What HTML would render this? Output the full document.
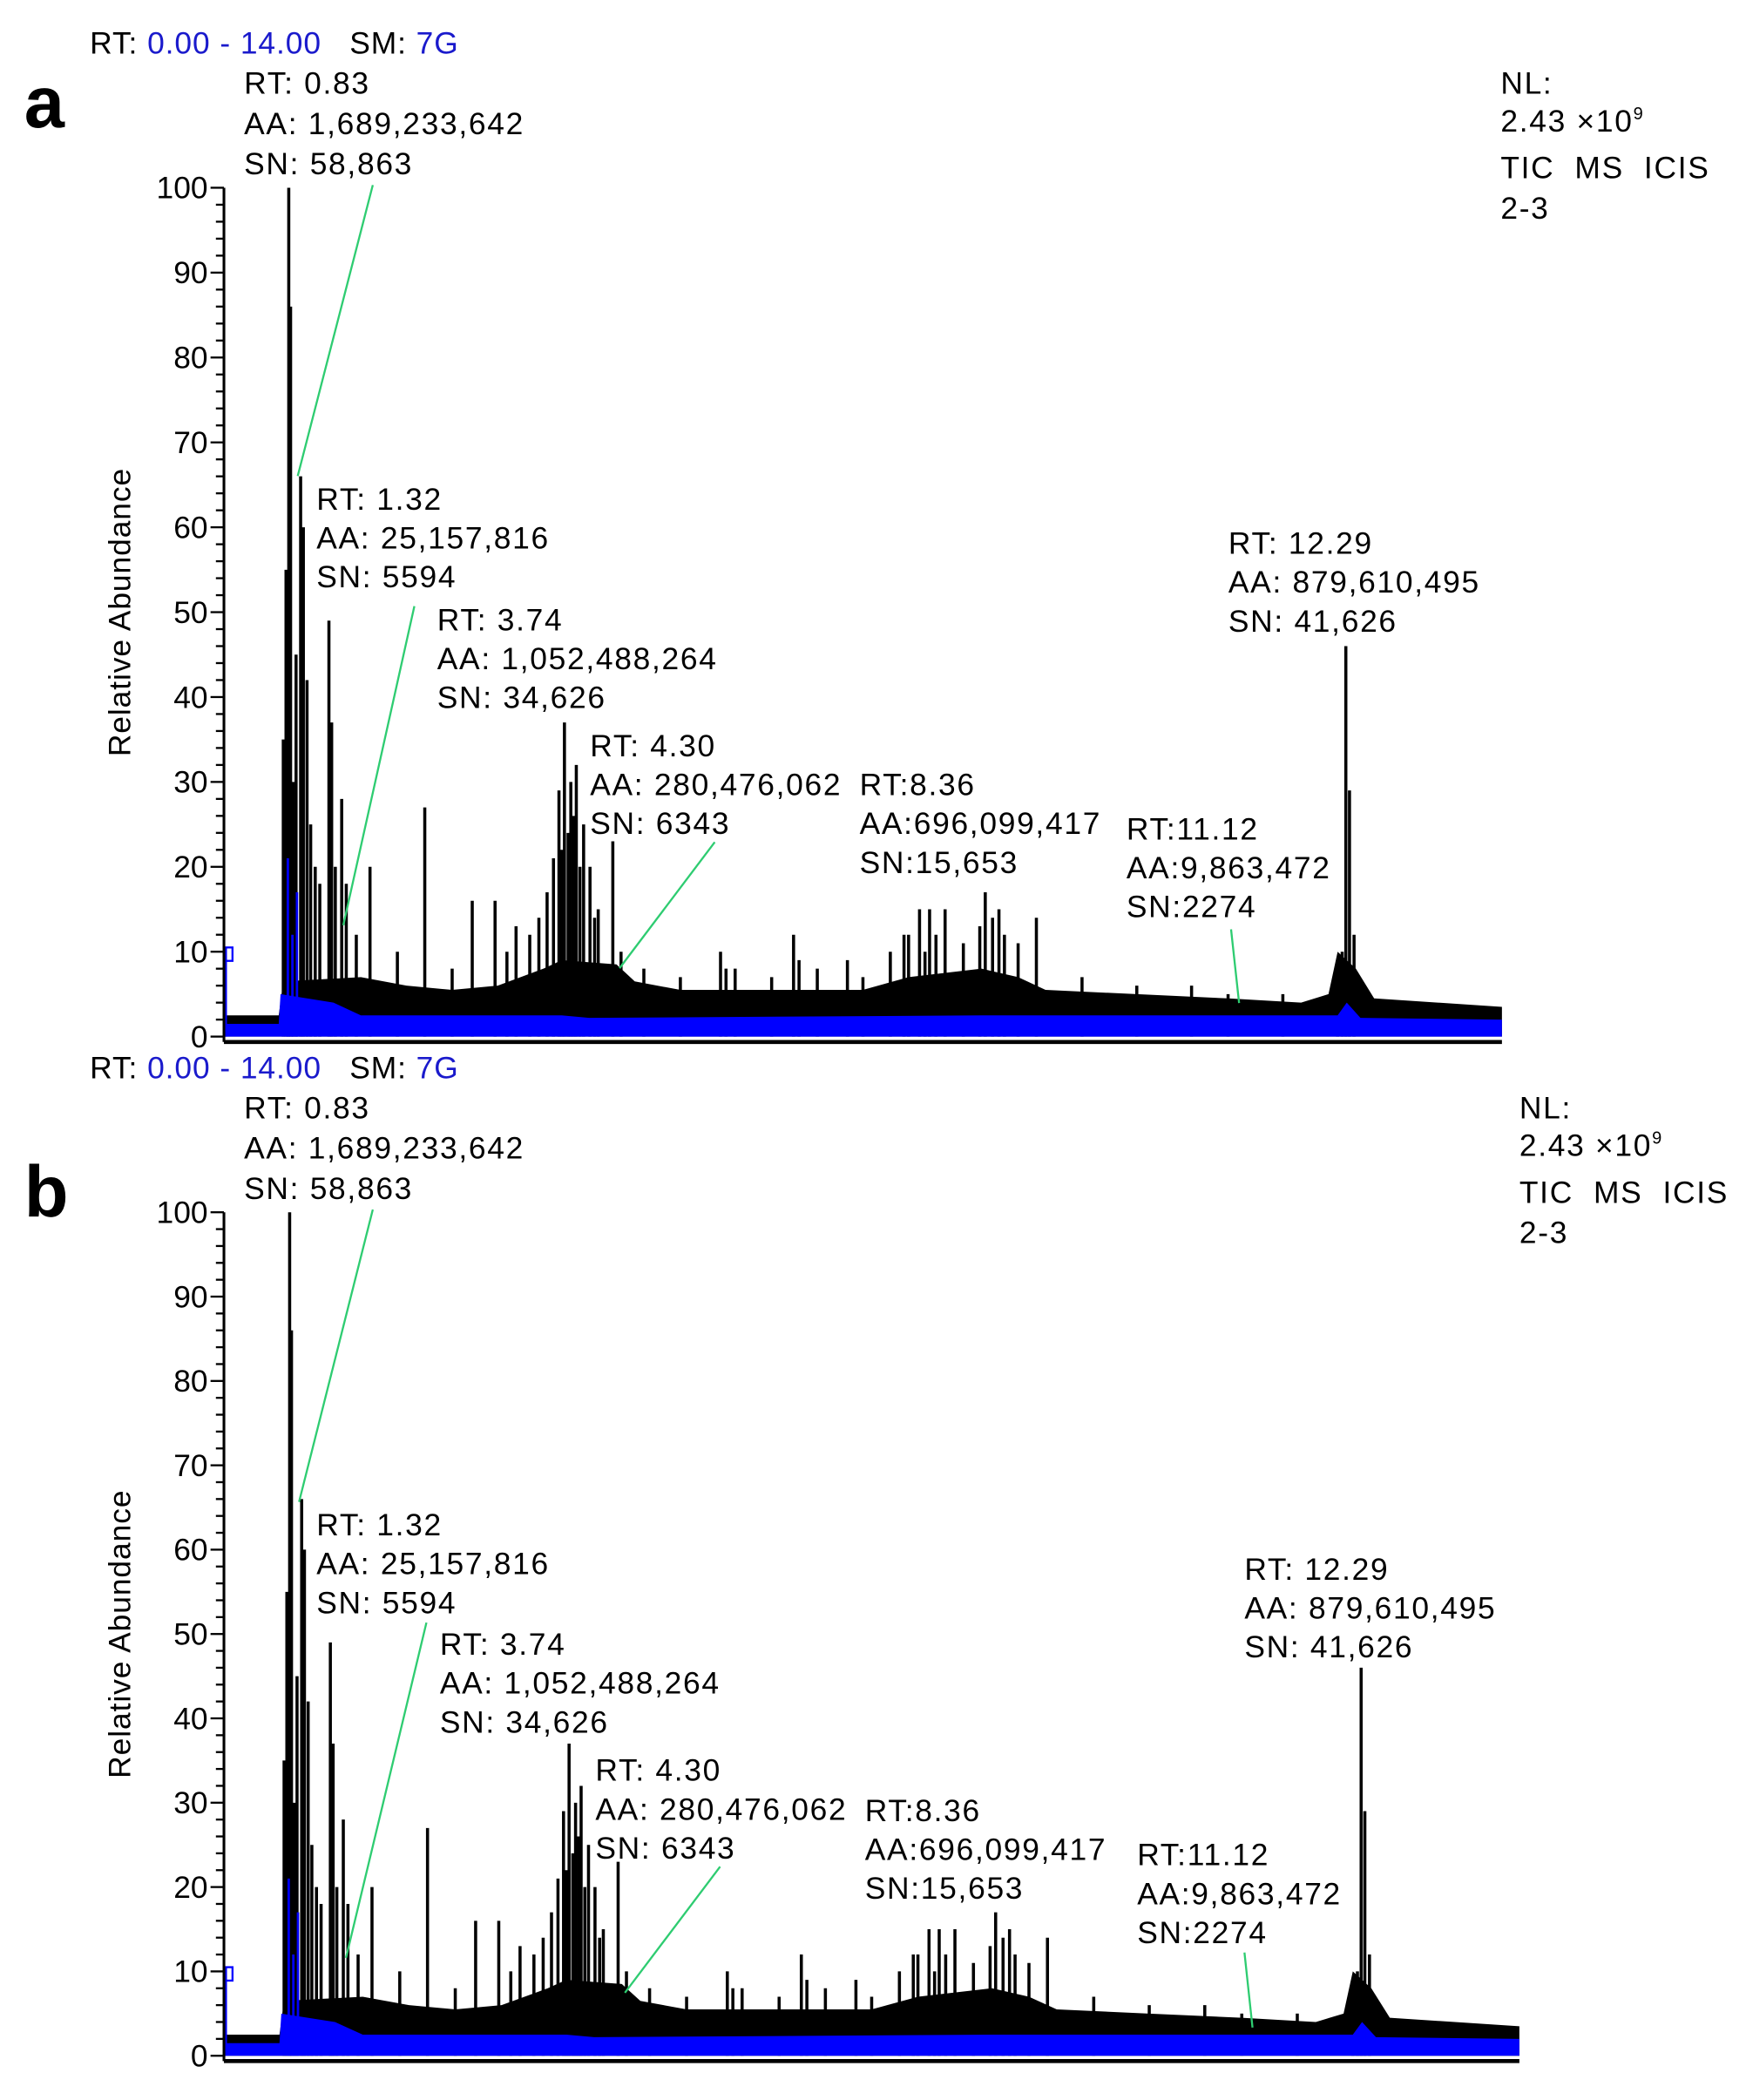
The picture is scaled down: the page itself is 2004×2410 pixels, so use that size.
<!DOCTYPE html>
<html><head><meta charset="utf-8"><style>
html,body{margin:0;padding:0;background:#fff}
svg{display:block}
text{font-family:"Liberation Sans",sans-serif}
</style></head><body>
<svg id="fig" width="2004" height="2410" viewBox="0 0 1302 1566" preserveAspectRatio="none" xmlns="http://www.w3.org/2000/svg"></svg>
<script>
const peakRT=[0.65,0.68,0.71,0.73,0.76,0.79,0.84,0.87,0.91,0.95,1.0,1.05,1.15,1.18,1.22,1.29,1.34,1.45,1.60,1.9,2.20,2.5,2.72,2.97,3.1,3.20,3.35,3.45,3.54,3.61,3.67,3.70,3.73,3.77,3.80,3.83,3.86,3.90,3.94,4.01,4.06,4.10,4.26,4.35,4.6,5.0,5.44,5.5,5.6,6.0,6.24,6.3,6.5,6.83,7.0,7.3,7.45,7.5,7.62,7.68,7.73,7.80,7.90,8.1,8.28,8.34,8.42,8.49,8.55,8.7,8.90,9.4,10.0,10.6,11.0,11.6,12.20,12.25,12.29,12.33,12.38];
const peakHeight=[35,55,100,86,30,45,66,60,42,25,20,18,49,37,20,28,18,12,20,10,27,8,16,16,10,13,12,14,17,21,29,22,37,24,30,26,32,20,25,20,14,15,23,10,8,7,10,8,8,7,12,9,8,9,7,10,12,12,15,10,15,12,15,11,13,17,14,15,12,11,14,7,6,6,5,5,8,10,46,29,12];
const baseRT=[0,0.6,0.65,1.5,2,2.5,3,3.5,3.7,4.3,4.5,5,6,7,7.5,8.3,8.7,9,10,11,11.8,12.1,12.2,12.4,12.6,14];
const baseLevel=[2.5,2.5,6.5,7,6,5.5,6,8,9,8.5,6.5,5.5,5.5,5.5,7,8,7,5.5,5,4.5,4,5,10,8,4.5,3.5];
const blueRT=[0,0.6,0.62,1.2,1.5,3.7,4,8.3,12.2,12.3,12.45,14];
const blueLevel=[1.5,1.5,5,4,2.5,2.5,2.2,2.5,2.5,4,2.2,2];
const blueSpikeRT=[0.02,0.7,0.75,0.8];
const blueSpikeHeight=[10.5,21,12,17];
const yTicks=[0,10,20,30,40,50,60,70,80,90,100];

const NS="http://www.w3.org/2000/svg";
const svg=document.getElementById('fig');
function mk(tag,attrs,parent){const e=document.createElementNS(NS,tag);for(const k in attrs)e.setAttribute(k,attrs[k]);(parent||svg).appendChild(e);return e;}
function txt(parent,x,y,s,size,extra){const t=mk('text',Object.assign({x:x,y:y,'font-size':size||23,'letter-spacing':1.1,fill:'#000'},extra||{}),parent);t.textContent=s;return t;}

function panel(cfg){
  const g=mk('g',{});
  
  
  const X=rt=>cfg.xL+(rt/14)*(cfg.xR-cfg.xL);
  const Y=v=>cfg.y0-(v/100)*(cfg.y0-cfg.y100);
  let d='M'+X(0)+','+Y(0);
  baseRT.forEach((r,i)=>{d+=' L'+X(r)+','+Y(baseLevel[i]);});
  d+=' L'+X(14)+','+Y(0)+' Z';
  const band=mk('path',{d:d,fill:'#000'},g);
  
  
  peakRT.forEach((r,i)=>{
    const l=mk('line',{x1:X(r),x2:X(r),y1:Y(0),y2:Y(peakHeight[i]),stroke:'#000','stroke-width':2.3},g);
    
    
  });
  let db='M'+X(0)+','+Y(0);
  blueRT.forEach((r,i)=>{db+=' L'+X(r)+','+Y(blueLevel[i]);});
  db+=' L'+X(14)+','+Y(0)+' Z';
  const bb=mk('path',{d:db,fill:'#0000ff'},g);
  
  
  blueSpikeRT.forEach((r,i)=>{
    const l=mk('line',{x1:X(r),x2:X(r),y1:Y(0),y2:Y(blueSpikeHeight[i]),stroke:'#0000ff','stroke-width':1.8},g);
    
    
  });
  mk('rect',{x:X(0.02),y:Y(10.5),width:5,height:10,fill:'none',stroke:'#0000ff','stroke-width':1.5},g);
  const ax=mk('g',{},g);
  
  
  mk('line',{x1:cfg.xL,x2:cfg.xL,y1:Y(100),y2:cfg.yb,stroke:'#000','stroke-width':2},ax);
  for(let v=0;v<=100;v+=2){
    const major=v%10===0;
    mk('line',{x1:cfg.xL-(major?10:6),x2:cfg.xL,y1:Y(v),y2:Y(v),stroke:'#000','stroke-width':1.5},ax);
  }
  yTicks.forEach(v=>{
    const t=txt(ax,cfg.xL-12,Y(v)+8,String(v),23,{'text-anchor':'end','letter-spacing':0});
    
    
  });
  const xa=mk('line',{x1:cfg.xL,x2:cfg.xR,y1:cfg.yb,y2:cfg.yb,stroke:'#000','stroke-width':3},g);
  
  
  const yt=txt(g,0,0,'Relative Abundance',23,{'text-anchor':'middle','letter-spacing':0.6,transform:'translate('+(cfg.xL-70)+','+(Y(50))+') rotate(-90)'});
  
  
  const h=mk('text',{x:67,y:cfg.titleY+8,'font-size':23,'letter-spacing':0.6},g);
  
  
  h.innerHTML='<tspan fill="#000">RT:\u00a0</tspan><tspan fill="#1a1acc">0.00 - 14.00</tspan><tspan fill="#000">\u00a0\u00a0 SM:\u00a0</tspan><tspan fill="#1a1acc">7G</tspan>';
  const lt=txt(g,18,cfg.letterY+17,cfg.id,54,{'font-family':'Liberation Serif,serif','font-weight':'bold','letter-spacing':0});
  
  
  const nl=mk('g',{},g);
  
  
  txt(nl,cfg.nlX,cfg.titleY+38,'NL:');
  const t2=txt(nl,cfg.nlX,cfg.titleY+66,'2.43');
  t2.innerHTML='2.43 ×10<tspan font-size="13" dy="-9">9</tspan>';
  txt(nl,cfg.nlX,cfg.titleY+101,'TIC\u00a0 MS\u00a0 ICIS');
  txt(nl,cfg.nlX,cfg.titleY+131,'2-3');
  cfg.labels.forEach(L=>{
    const lg=mk('g',{},g);
    
    
    L.lines.forEach((s,i)=>txt(lg,L.x,L.y+8+i*L.dy,s));
    if(L.ln) mk('line',{x1:L.ln[0],y1:L.ln[1],x2:L.ln[2],y2:L.ln[3],stroke:'#2ecc71','stroke-width':1.5},lg);
  });
}
panel({id:'a',xL:167,xR:1120,y0:773,y100:140,yb:777,titleY:32,letterY:78,nlX:1119,labels:[
 {x:182,y:62,dy:30,lines:['RT: 0.83','AA: 1,689,233,642','SN: 58,863'],ln:[278,138,222,355]},
 {x:236,y:372,dy:29,lines:['RT: 1.32','AA: 25,157,816','SN: 5594'],ln:[309,452,256,690]},
 {x:326,y:462,dy:29,lines:['RT: 3.74','AA: 1,052,488,264','SN: 34,626']},
 {x:440,y:556,dy:29,lines:['RT: 4.30','AA: 280,476,062','SN: 6343'],ln:[533,628,462,722]},
 {x:641,y:585,dy:29,lines:['RT:8.36','AA:696,099,417','SN:15,653']},
 {x:840,y:618,dy:29,lines:['RT:11.12','AA:9,863,472','SN:2274'],ln:[918,693,924,748]},
 {x:916,y:405,dy:29,lines:['RT: 12.29','AA: 879,610,495','SN: 41,626']}
]});
panel({id:'b',xL:167,xR:1133,y0:1533,y100:904,yb:1537,titleY:796,letterY:890,nlX:1133,labels:[
 {x:182,y:826,dy:30,lines:['RT: 0.83','AA: 1,689,233,642','SN: 58,863'],ln:[278,902,223,1120]},
 {x:236,y:1137,dy:29,lines:['RT: 1.32','AA: 25,157,816','SN: 5594'],ln:[318,1210,258,1460]},
 {x:328,y:1226,dy:29,lines:['RT: 3.74','AA: 1,052,488,264','SN: 34,626']},
 {x:444,y:1320,dy:29,lines:['RT: 4.30','AA: 280,476,062','SN: 6343'],ln:[537,1392,466,1486]},
 {x:645,y:1350,dy:29,lines:['RT:8.36','AA:696,099,417','SN:15,653']},
 {x:848,y:1383,dy:29,lines:['RT:11.12','AA:9,863,472','SN:2274'],ln:[928,1456,934,1512]},
 {x:928,y:1170,dy:29,lines:['RT: 12.29','AA: 879,610,495','SN: 41,626']}
]});
</script>
</body></html>
